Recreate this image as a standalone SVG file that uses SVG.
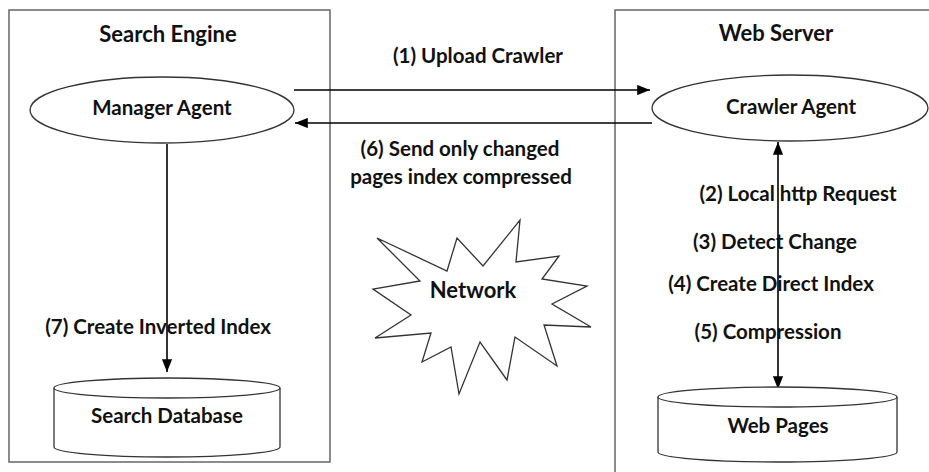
<svg xmlns="http://www.w3.org/2000/svg" width="929" height="472" viewBox="0 0 929 472">
<style>
.box{fill:none;stroke:#666;stroke-width:1.5}
.shape{fill:#fff;stroke:#333;stroke-width:1.3}
.line{fill:none;stroke:#000;stroke-width:1.6}
text{font-family:Lato,"Liberation Sans",sans-serif;font-weight:bold;fill:#111;text-anchor:middle}
.t{font-size:22px}
.l{font-size:20.5px}
</style>
<defs>
<marker id="ah" viewBox="0 0 10 8" refX="10" refY="4" markerWidth="8" markerHeight="6.4" markerUnits="strokeWidth" orient="auto-start-reverse">
<path d="M0,0 L10,4 L0,8 z" fill="#000"/>
</marker>
</defs>
<g id="search-engine">
<rect class="box" x="9" y="10" width="321" height="452"/>
<text class="t" x="168" y="42">Search Engine</text>
</g>
<g id="web-server">
<rect class="box" x="615" y="10" width="330" height="480"/>
<text class="t" x="776" y="41">Web Server</text>
</g>
<g id="connectors">
<line class="line" x1="294" y1="90" x2="650" y2="90" marker-end="url(#ah)"/>
<line class="line" x1="652" y1="123" x2="295" y2="123" marker-end="url(#ah)"/>
<line class="line" x1="167" y1="144" x2="167" y2="372" marker-end="url(#ah)"/>
<line class="line" x1="778" y1="142" x2="778" y2="389" marker-start="url(#ah)" marker-end="url(#ah)"/>
<text class="l" x="478" y="63">(1) Upload Crawler</text>
<text class="l" x="460" y="156">(6) Send only changed</text>
<text class="l" x="461" y="184">pages index compressed</text>
<text class="l" x="158" y="334">(7) Create Inverted Index</text>
<text class="l" x="798" y="201">(2) Local http Request</text>
<text class="l" x="775" y="249">(3) Detect Change</text>
<text class="l" x="771" y="291">(4) Create Direct Index</text>
<text class="l" x="768" y="339">(5) Compression</text>
</g>
<g id="manager-agent">
<ellipse class="shape" cx="162" cy="110" rx="132" ry="33"/>
<text class="l" x="162" y="115">Manager Agent</text>
</g>
<g id="crawler-agent">
<ellipse class="shape" cx="790" cy="108" rx="138" ry="33"/>
<text class="l" x="791" y="114">Crawler Agent</text>
</g>
<g id="search-database">
<path class="shape" d="M54,388 L54,447 A113,10 0 0 0 280,447 L280,388"/>
<ellipse class="shape" cx="167" cy="388" rx="113" ry="10"/>
<text class="l" x="167" y="423">Search Database</text>
</g>
<g id="web-pages">
<path class="shape" d="M658,397 L658,452 A119.5,10 0 0 0 897,452 L897,397"/>
<ellipse class="shape" cx="777.5" cy="397" rx="119.5" ry="10"/>
<text class="l" x="778" y="433">Web Pages</text>
</g>
<g id="network">
<polygon class="shape" points="377,238 447,271 457,238 483,266 520,220 516,262 559,256 542,279 587,286 552,304 591,327 544,325 557,366 515,337 507,380 480,342 459,394 451,347 422,362 431,333 375,338 411,315 373,289 420,281"/>
<text x="473" y="298" style="font-size:22px">Network</text>
</g>
</svg>
